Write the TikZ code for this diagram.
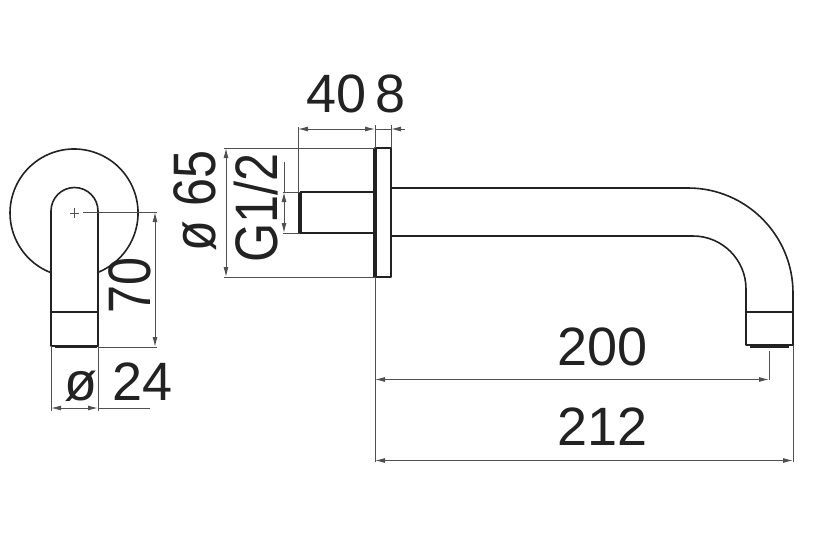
\documentclass[tikz,border=0pt]{standalone}
\usepackage{fontspec}
\setmainfont{Liberation Sans}
\usetikzlibrary{arrows.meta}
\definecolor{inkdark}{HTML}{222222}
\definecolor{inkdim}{HTML}{505050}
\newcommand{\narrowtext}[1]{\scalebox{.84}[1]{#1}}
\tikzset{
	part/.style={draw=inkdark,line width=1.6pt,line join=round},
	heavy/.style={draw=inkdark,line width=3.2pt},
	dimline/.style={draw=inkdim,line width=1pt},
	dimarrow/.style={dimline,{Latex[length=10pt,width=5pt]}-{Latex[length=10pt,width=5pt]}},
	dimlabel/.style={text=inkdark,font=\fontsize{54}{54}\selectfont,anchor=base,inner sep=0pt},
	dimlabelup/.style={text=inkdark,font=\fontsize{60}{60}\selectfont,anchor=base,inner sep=0pt,rotate=90},
}
\begin{document}
\begin{tikzpicture}[x=1pt,y=-1pt]
	\useasboundingbox (0,0) rectangle (822,533);
	
	% side view
	\coordinate (c) at (74.5,213);
	\coordinate (sl) at (51,346);
	\coordinate (sr) at (98,346);
	\draw[part] (51,272.7) arc[start angle=111.1,end angle=428.9,radius=64];
	\draw[part] (sl) -- (51,211) arc[start angle=180,end angle=360,radius=23.5] -- (sr) -- cycle;
	\draw[part] (51,312) -- (98,312);
	\draw[heavy] (55,346.5) -- (97,346.5);
	\draw[dimline,line width=.8pt] (70,213) -- (79,213) (c) ++(0,-5) -- ++(0,10);
	
	\draw[dimline] (83,212) -- (157,212);
	\draw[dimline] (sr) ++(0,1) -- (157,347);
	\draw[dimarrow] (155,212) -- (155,347);
	\draw[dimline] (sl) -- (51,411);
	\draw[dimline] (sr) -- (98,411);
	\draw[dimarrow] (51,408) -- (98,408);
	\draw[dimline] (98,408) -- (150,408);
	\node[dimlabelup] (seventy) at (150,285) {\narrowtext{70}};
	\node[dimlabel] (dia24) at (119,400) {ø 24};
	
	% front view
	\coordinate (fa) at (375,148);
	\coordinate (fb) at (391,148);
	\coordinate (fc) at (391,277);
	\coordinate (fd) at (375,277);
	\coordinate (sa) at (300,192);
	\coordinate (sb) at (300,233);
	\draw[part] (fa) -- (fb) -- (fc) -- (fd) -- cycle;
	\draw[heavy] (fa) -- (fd);
	\draw[part] (sa) -- (375,192);
	\draw[part] (sb) -- (375,233);
	\draw[heavy,line width=4pt] (sa) -- (sb);
	
	\draw[part] (391,188) -- (688,188) arc[start angle=270,end angle=360,radius=105] -- (793,345)
		-- (746,345) -- (746,289) arc[start angle=0,end angle=-90,radius=53] -- (391,236);
	\draw[part] (746,312) -- (793,312);
	\draw[heavy] (750,346.5) -- (789,346.5);
	
	% dimensions
	\draw[dimline] (298,192) -- (298,127);
	\draw[dimline] (375,148) -- (375,125);
	\draw[dimline] (391,148) -- (391,125);
	\draw[dimarrow] (298,129) -- (375,129);
	\draw[dimline,-{Latex[length=10pt,width=5pt]}] (405,129) -- (391,129);
	\draw[dimline] (375,129) -- (391,129);
	\node[dimlabel] (forty) at (337,112) {40};
	\node[dimlabel] (eight) at (390.5,112) {8};
	
	\draw[dimline] (fa) -- (224,148);
	\draw[dimline] (fd) -- (224,277);
	\draw[dimarrow] (226,148) -- (226,277);
	\node[dimlabelup] (dia65) at (215,201) {\narrowtext{ø 65}};
	
	\draw[dimline] (sa) -- (283,192);
	\draw[dimline] (sb) -- (283,233);
	\draw[dimarrow] (284,192) -- (284,233);
	\draw[dimline] (284,162) -- (284,192);
	\node[dimlabelup] (thread) at (277,208) {\narrowtext{G1/2}};
	
	\draw[dimline] (fd) -- (375,462);
	\draw[dimline] (769,351) -- (769,380);
	\draw[dimline] (793,345) -- (793,462);
	\draw[dimarrow] (375,379.5) -- (769,379.5);
	\draw[dimarrow] (375,460.5) -- (793,460.5);
	\node[dimlabel] (twohundred) at (602.5,365) {200};
	\node[dimlabel] (twotwelve) at (602.5,445) {212};
	
\end{tikzpicture}
\end{document}
